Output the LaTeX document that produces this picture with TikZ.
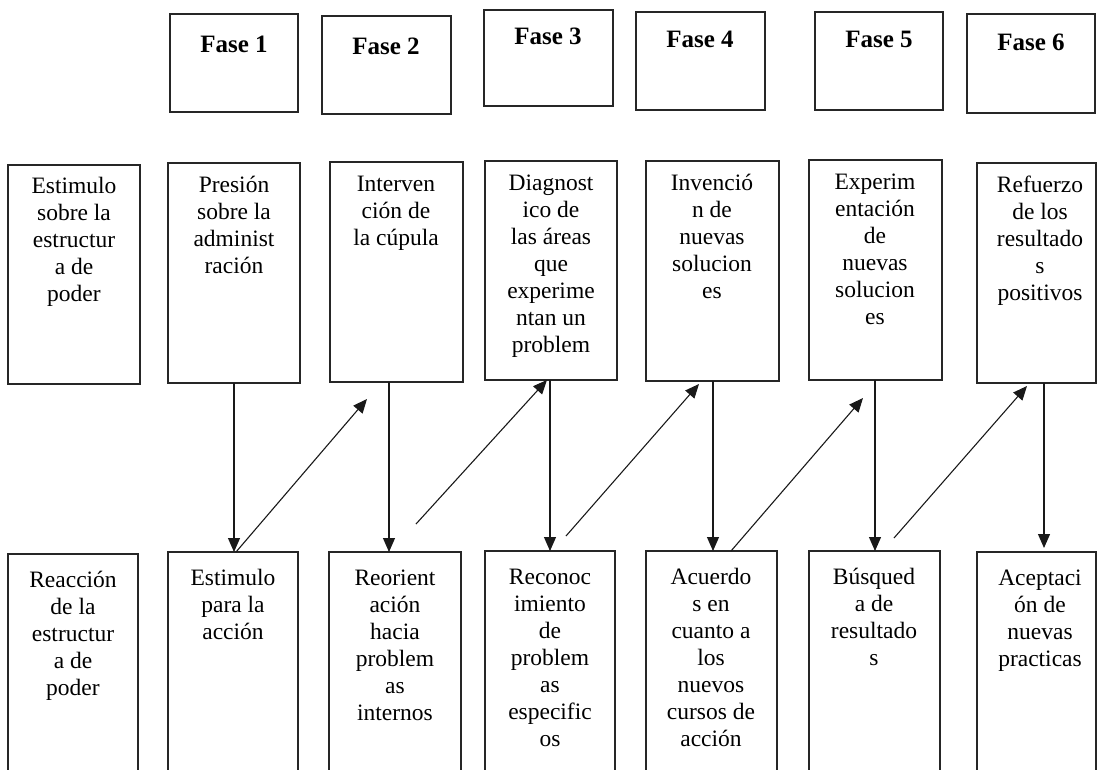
\documentclass[tikz,border=0pt]{standalone}
\usepackage{fontspec}
\setmainfont{Liberation Serif}
\usetikzlibrary{arrows.meta}
% centred lines, baseline of the first line is the node's base
\newcommand{\lines}[1]{\begin{tabular}[t]{@{}c@{}}#1\end{tabular}}

\begin{document}
\begin{tikzpicture}[x=1pt,y=-1pt,
  frame/.style={draw=black!85, line width=1.7pt, inner sep=0pt, outer sep=0pt, anchor=north west},
  lbl/.style={inner sep=0pt, anchor=base, font=\fontsize{23.5}{27}\selectfont},
  phase/.style={inner sep=0pt, anchor=base, font=\fontsize{25}{28}\selectfont\bfseries},
  link/.style={draw=black!90, line width=1.1pt, -{Triangle[length=14pt,width=12pt]}}]
\useasboundingbox (0,0) rectangle (1098,769);
\clip (0,0) rectangle (1098,769);

% phase headers
\node[frame, minimum width=128pt, minimum height=98pt] (F1) at (170,14) {};
\node[frame, minimum width=129pt, minimum height=98pt] (F2) at (322,16) {};
\node[frame, minimum width=129pt, minimum height=96pt] (F3) at (484,10) {};
\node[frame, minimum width=129pt, minimum height=98pt] (F4) at (636,12) {};
\node[frame, minimum width=128pt, minimum height=98pt] (F5) at (815,12) {};
\node[frame, minimum width=128pt, minimum height=99pt] (F6) at (967,14) {};
\node[phase] (t1) at (234,52) {Fase 1};
\node[phase] (t2) at (386,54) {Fase 2};
\node[phase] (t3) at (548,44) {Fase 3};
\node[phase] (t4) at (700,47) {Fase 4};
\node[phase] (t5) at (879,47) {Fase 5};
\node[phase] (t6) at (1031,50) {Fase 6};

% stimulus row
\node[frame, minimum width=132pt, minimum height=219pt] (M0) at (8,165) {};
\node[frame, minimum width=132pt, minimum height=220pt] (M1) at (168,163) {};
\node[frame, minimum width=133pt, minimum height=220pt] (M2) at (330,162) {};
\node[frame, minimum width=132pt, minimum height=219pt] (M3) at (485,161) {};
\node[frame, minimum width=133pt, minimum height=220pt] (M4) at (646,161) {};
\node[frame, minimum width=133pt, minimum height=220pt] (M5) at (809,160) {};
\node[frame, minimum width=119pt, minimum height=220pt] (M6) at (977,163) {};
\node[lbl] (m0) at (74,193) {\lines{Estimulo\\sobre la\\estructur\\a de\\poder}};
\node[lbl] (m1) at (234,192) {\lines{Presión\\sobre la\\administ\\ración}};
\node[lbl] (m2) at (396,191) {\lines{Interven\\ción de\\la cúpula}};
\node[lbl] (m3) at (551,190) {\lines{Diagnost\\ico de\\las áreas\\que\\experime\\ntan un\\problem}};
\node[lbl] (m4) at (712,190) {\lines{Invenció\\n de\\nuevas\\solucion\\es}};
\node[lbl] (m5) at (875,189) {\lines{Experim\\entación\\de\\nuevas\\solucion\\es}};
\node[lbl] (m6) at (1040,192) {\lines{Refuerzo\\de los\\resultado\\s\\positivos}};

% reaction row (boxes run past the lower edge)
\node[frame, minimum width=130pt, minimum height=260pt] (B0) at (8,554) {};
\node[frame, minimum width=130pt, minimum height=260pt] (B1) at (168,552) {};
\node[frame, minimum width=132pt, minimum height=260pt] (B2) at (329,552) {};
\node[frame, minimum width=130pt, minimum height=260pt] (B3) at (485,551) {};
\node[frame, minimum width=131pt, minimum height=260pt] (B4) at (646,551) {};
\node[frame, minimum width=131pt, minimum height=260pt] (B5) at (809,551) {};
\node[frame, minimum width=119pt, minimum height=260pt] (B6) at (977,552) {};
\node[lbl] (b0) at (73,587) {\lines{Reacción\\de la\\estructur\\a de\\poder}};
\node[lbl] (b1) at (233,585) {\lines{Estimulo\\para la\\acción}};
\node[lbl] (b2) at (395,585) {\lines{Reorient\\ación\\hacia\\problem\\as\\internos}};
\node[lbl] (b3) at (550,584) {\lines{Reconoc\\imiento\\de\\problem\\as\\especific\\os}};
\node[lbl] (b4) at (711,584) {\lines{Acuerdo\\s en\\cuanto a\\los\\nuevos\\cursos de\\acción}};
\node[lbl] (b5) at (874,584) {\lines{Búsqued\\a de\\resultado\\s}};
\node[lbl] (b6) at (1040,585) {\lines{Aceptaci\\ón de\\nuevas\\practicas}};

% free ends of the rising arrows
\coordinate (u1) at (367,399);
\coordinate (s2) at (416,524);
\coordinate (s3) at (566,536);
\coordinate (u4) at (863,398);
\coordinate (s5) at (894,538);

% downward arrows
\draw[link] (M1.south -| 234,0) -- (B1.north -| 234,0);
\draw[link] (M2.south -| 389,0) -- (B2.north -| 389,0);
\draw[link] (M3.south -| 550,0) -- (B3.north -| 550,0);
\draw[link] (M4.south -| 713,0) -- (B4.north -| 713,0);
\draw[link] (M5.south -| 875,0) -- (B5.north -| 875,0);
\draw[link] (M6.south -| 1044,0) -- ([yshift=4pt]B6.north -| 1044,0);

% rising arrows
\draw[link] (B1.north -| 236,0) -- (u1);
\draw[link] (s2) -- (M3.south -| 547,0);
\draw[link] (s3) -- ([yshift=-3pt]M4.south -| 699,0);
\draw[link] (B4.north -| 731,0) -- (u4);
\draw[link] (s5) -- ([yshift=-3pt]M6.south -| 1027,0);
\end{tikzpicture}
\end{document}
